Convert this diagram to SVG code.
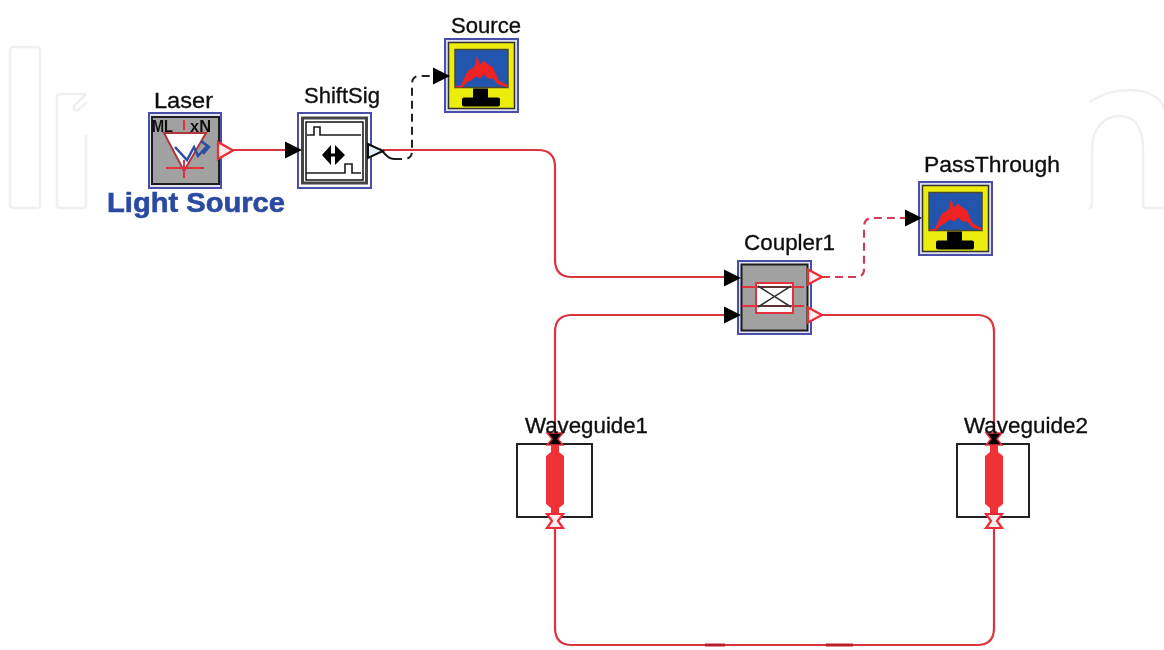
<svg xmlns="http://www.w3.org/2000/svg" width="1164" height="650" viewBox="0 0 1164 650">
<style>
text{font-family:"Liberation Sans",Arial,sans-serif;fill:#111}
.lbl{font-size:22px;stroke:#111;stroke-width:.35px}
.wm{fill:none;stroke:#eff0f0;stroke-width:2.5}
.frame{fill:#e4e4f0;stroke:#4a4fa8;stroke-width:2}
.ink{fill:none;stroke:#1a1a1a;stroke-width:1.6}
.rl{fill:none;stroke:#e2333f;stroke-width:2}
.wire{fill:none;stroke:#dd3240;stroke-width:2.2}
.blk{fill:#000}
.port{fill:#fdecec;stroke:#ee2a35;stroke-width:2.2}
.body{fill:#ee3237}
.wgbox{fill:#fff;stroke:#222;stroke-width:2}
</style>
<defs>
<filter id="soft" filterUnits="userSpaceOnUse" x="0" y="0" width="1164" height="650"><feGaussianBlur stdDeviation="0.55"/></filter>
<g id="in"><path class="blk" d="M-17-8.500L0 0L-17 8.500Z"/></g>
<g id="out"><path class="port" d="M0-7.500L14 0L0 7.500Z"/></g>
<g id="mon">
<rect x="-36" y="-36.500" width="73" height="73" fill="#dfe0ee" stroke="#4a4fa8" stroke-width="2"/>
<rect x="-32.500" y="-33" width="66" height="66" fill="#ecec10" stroke="#333" stroke-width="1.500"/>
<rect x="-26" y="-26" width="53" height="38" fill="#2356ae" stroke="#4a4a30" stroke-width="1.500"/>
<path d="M-26 11L-20 10L-17 3L-13-5L-9-7L-6-10L-4-20L-1-11L3-15L6-12L9-10L12-8L14-3L18 5L27 10L27 12L17 9L12 3L7 3L3-1L-1 3L-5 1L-9 4L-14 7L-19 12L-26 12Z" fill="#ed2024"/>
<rect x="-8" y="13" width="15" height="10" fill="#000"/>
<rect x="-19" y="22" width="38" height="9" rx="2" fill="#000"/>
</g>
<g id="wg">
<path class="body" d="M-4 13H4V22L9 26V74L4 78V84H-4V78L-9 74V26L-4 22Z"/>
<path class="port" d="M-8 84H8L3 91L8 98H-8L-3 91Z"/>
<path d="M-8 3H8L3 9L8 15H-8L-3 9Z" fill="#000" stroke="#e2333f" stroke-width="1.500"/>
</g>
</defs>

<g filter="url(#soft)">
<g id="watermark">
<rect class="wm" x="10" y="47" width="30" height="161" rx="3"/>
<path class="wm" d="M86 94H60Q57 94 57 97V205Q57 208 60 208H83Q86 208 86 205V135"/>
<path class="wm" d="M86 94L74 106Q73 110 77 111L87 102"/>
<path class="wm" d="M1089 102C1105 93 1115 90 1130 90C1150 90 1164 100 1164 110"/>
<path class="wm" d="M1164 208H1146Q1143 208 1143 205V150C1143 128 1135 116 1120 116C1104 116 1092 128 1092 150V205Q1092 208 1089 208"/>
</g>

<g id="connectors">
<path class="wire" d="M232 150H290"/>
<path class="wire" d="M383 150H538Q555 150 555 167V260Q555 277 572 277H726"/>
<path class="wire" d="M726 315H572Q555 315 555 332V434"/>
<path class="wire" d="M822 315H977Q994 315 994 332V434"/>
<path class="wire" d="M555 526V628Q555 645 572 645H977Q994 645 994 628V526"/>
<path d="M705 645H725M826 645H853" fill="none" stroke="#bb1f2a" stroke-width="3"/>
<path d="M380 149C385 153 387 159 394 159" fill="none" stroke="#111" stroke-width="2"/>
<path d="M394 159H404Q412 159 412 151V84Q412 76 420 76H436" fill="none" stroke="#222" stroke-width="2" stroke-dasharray="8 5"/>
<path d="M822 277H856Q864 277 864 269V227Q864 218 873 218H908" fill="none" stroke="#d23a55" stroke-width="2.200" stroke-dasharray="8 5"/>
</g>

<g id="laser">
<rect class="frame" x="149" y="113" width="72" height="75"/>
<rect x="152" y="117" width="67" height="67" fill="#a1a1a1" stroke="#1a1a1a" stroke-width="2"/>
<path d="M164 133H206L184 171Z" fill="#fff" stroke="#b2343a" stroke-width="2"/>
<path class="rl" d="M166 168H204M184 160V178M184 120V130"/>
<path d="M175 147L187 160L194 147L198 156L208 145M201 141L209 147L203 154" fill="none" stroke="#2a4fa5" stroke-width="2.500"/>
<text x="152" y="132" font-size="17" font-weight="bold" textLength="21" lengthAdjust="spacingAndGlyphs">ML</text>
<text x="190" y="132" font-size="17" font-weight="bold" textLength="21" lengthAdjust="spacingAndGlyphs">xN</text>
<path class="port" d="M218 142L233 150.500L218 159Z"/>
<text class="lbl" x="154" y="108" textLength="59" lengthAdjust="spacingAndGlyphs">Laser</text>
</g>
<text id="light-source" x="107" y="212" font-size="28" font-weight="bold" style="fill:#2a4aa0;stroke:#2a4aa0;stroke-width:.6px" textLength="178" lengthAdjust="spacingAndGlyphs">Light Source</text>

<g id="shiftsig">
<rect x="298" y="113" width="73" height="75" fill="#fff" stroke="#4a4fa8" stroke-width="2"/>
<rect x="302.500" y="118" width="64" height="65" fill="#fff" stroke="#444" stroke-width="3"/>
<rect x="306" y="122" width="57" height="58" fill="#fff" stroke="#111" stroke-width="1.500"/>
<path class="ink" d="M307 135H314V127H320V135H361M306 173H345V164H352V173H361"/>
<path class="blk" d="M322 155L331 145V165ZM345 155L335 145V165Z"/>
<rect x="330" y="153.500" width="6" height="3" fill="#000"/>
<path d="M368 144L383 151L368 158Z" fill="#e4f2f8" stroke="#111" stroke-width="2"/>
<text class="lbl" x="304" y="103" textLength="76" lengthAdjust="spacingAndGlyphs">ShiftSig</text>
</g>

<g id="source">
<use href="#mon" x="481" y="75.500"/>
<text class="lbl" x="451" y="33" textLength="70" lengthAdjust="spacingAndGlyphs">Source</text>
</g>

<g id="passthrough">
<use href="#mon" x="955" y="218.500"/>
<text class="lbl" x="924" y="172" textLength="136" lengthAdjust="spacingAndGlyphs">PassThrough</text>
</g>

<g id="coupler1">
<rect class="frame" x="738" y="261" width="73" height="73"/>
<rect x="741.500" y="264.500" width="66" height="66" fill="#a1a1a1" stroke="#1a1a1a" stroke-width="2"/>
<rect x="756" y="283" width="37" height="30" fill="#fff" stroke="#e2333f" stroke-width="2"/>
<path class="rl" d="M742 287H804M742 306H804"/>
<path d="M758 286L791 307M791 286L758 307M758 287H791M758 306H791" fill="none" stroke="#333" stroke-width="1.500"/>
<use href="#out" x="808" y="277"/>
<use href="#out" x="808" y="315"/>
<text class="lbl" x="744" y="250" textLength="91" lengthAdjust="spacingAndGlyphs">Coupler1</text>
</g>

<g id="waveguide1">
<rect class="wgbox" x="517" y="444" width="75" height="73"/>
<use href="#wg" x="555" y="430"/>
<text class="lbl" x="525" y="433" textLength="123" lengthAdjust="spacingAndGlyphs">Waveguide1</text>
</g>

<g id="waveguide2">
<rect class="wgbox" x="957" y="444" width="72" height="73"/>
<use href="#wg" x="994" y="430"/>
<text class="lbl" x="964" y="433" textLength="124" lengthAdjust="spacingAndGlyphs">Waveguide2</text>
</g>

<g id="connector-heads">
<use href="#in" x="302" y="150"/>
<use href="#in" x="450" y="76"/>
<use href="#in" x="922" y="218"/>
<use href="#in" x="741" y="278"/>
<use href="#in" x="741" y="315"/>
</g>
</g>
</svg>
